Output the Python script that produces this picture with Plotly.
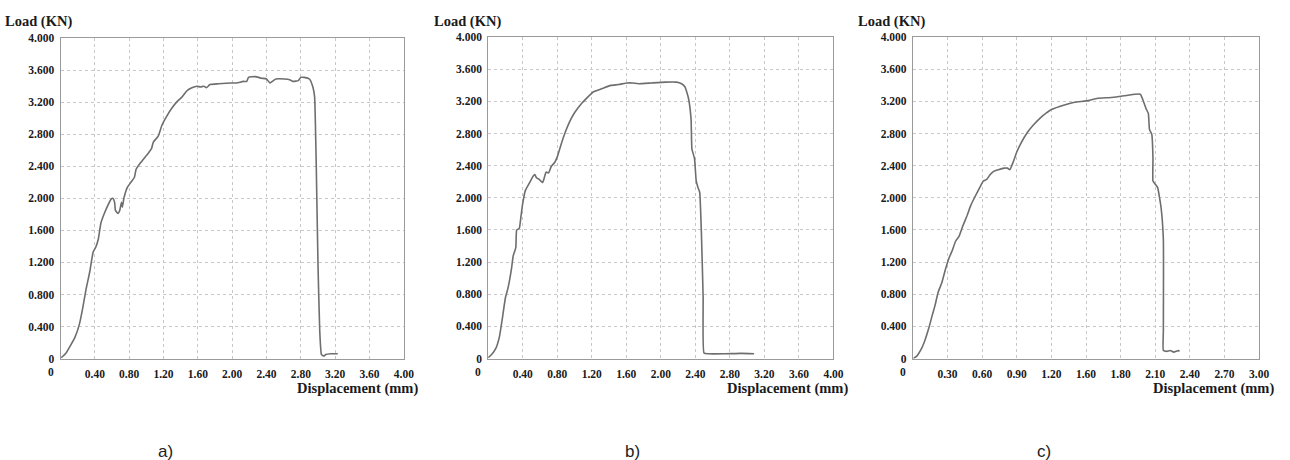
import plotly.graph_objects as go

# Load–displacement records for the three specimens
disp_a = [0.008, 0.065, 0.12, 0.17, 0.22, 0.26, 0.30, 0.34, 0.38, 0.41, 0.44, 0.47, 0.51, 0.55,
          0.59, 0.61, 0.63, 0.64, 0.67, 0.69, 0.71, 0.72, 0.74, 0.78, 0.82, 0.86, 0.88, 0.93,
          0.99, 1.02, 1.06, 1.08, 1.14, 1.18, 1.24, 1.30, 1.36, 1.42, 1.47, 1.53, 1.59, 1.63,
          1.67, 1.70, 1.74, 1.84, 1.99, 2.05, 2.13, 2.17, 2.19, 2.27, 2.34, 2.40, 2.44, 2.48,
          2.51, 2.61, 2.67, 2.71, 2.77, 2.80, 2.84, 2.90, 2.94, 2.96, 2.98, 3.00, 3.02, 3.04,
          3.07, 3.09, 3.15, 3.23]
load_a = [0.01, 0.07, 0.17, 0.27, 0.43, 0.64, 0.88, 1.08, 1.33, 1.39, 1.49, 1.69, 1.81, 1.91,
          1.99, 2.00, 1.95, 1.85, 1.81, 1.85, 1.95, 1.89, 2.01, 2.14, 2.20, 2.26, 2.36, 2.44,
          2.52, 2.56, 2.62, 2.70, 2.78, 2.91, 3.03, 3.13, 3.21, 3.27, 3.34, 3.38, 3.40, 3.39,
          3.40, 3.38, 3.42, 3.43, 3.44, 3.44, 3.46, 3.46, 3.51, 3.52, 3.50, 3.49, 3.44, 3.47,
          3.49, 3.49, 3.48, 3.46, 3.47, 3.51, 3.51, 3.49, 3.39, 3.27, 2.38, 1.16, 0.35, 0.05,
          0.03, 0.05, 0.06, 0.06]

disp_b = [0.0, 0.04, 0.09, 0.13, 0.16, 0.20, 0.23, 0.27, 0.29, 0.32, 0.33, 0.36, 0.38, 0.40,
          0.43, 0.48, 0.52, 0.54, 0.56, 0.59, 0.63, 0.65, 0.67, 0.70, 0.73, 0.77, 0.80, 0.84,
          0.88, 0.94, 1.00, 1.07, 1.15, 1.22, 1.32, 1.42, 1.51, 1.61, 1.67, 1.74, 1.89, 2.05,
          2.18, 2.24, 2.28, 2.32, 2.35, 2.36, 2.39, 2.41, 2.43, 2.45, 2.47, 2.49, 2.50, 2.55,
          2.74, 2.93, 3.08]
load_b = [0.01, 0.05, 0.13, 0.27, 0.47, 0.76, 0.88, 1.12, 1.28, 1.38, 1.60, 1.62, 1.77, 1.93,
          2.09, 2.19, 2.27, 2.29, 2.25, 2.23, 2.19, 2.25, 2.32, 2.31, 2.39, 2.44, 2.51, 2.65,
          2.78, 2.94, 3.06, 3.16, 3.25, 3.32, 3.36, 3.40, 3.41, 3.43, 3.43, 3.42, 3.43, 3.44,
          3.44, 3.42, 3.38, 3.24, 2.98, 2.61, 2.49, 2.21, 2.13, 2.07, 1.56, 0.76, 0.07, 0.06,
          0.06, 0.065, 0.06]

disp_c = [0.005, 0.034, 0.07, 0.10, 0.14, 0.17, 0.19, 0.22, 0.25, 0.28, 0.31, 0.34, 0.37, 0.40,
          0.43, 0.47, 0.50, 0.54, 0.58, 0.61, 0.64, 0.67, 0.70, 0.74, 0.79, 0.82, 0.84, 0.87,
          0.90, 0.94, 0.99, 1.04, 1.10, 1.16, 1.20, 1.32, 1.40, 1.52, 1.60, 1.72, 1.83, 1.97,
          1.99, 2.02, 2.04, 2.05, 2.07, 2.08, 2.08, 2.10, 2.12, 2.15, 2.17, 2.17, 2.17, 2.20,
          2.23, 2.26, 2.30, 2.31]
load_c = [0.0, 0.03, 0.11, 0.21, 0.39, 0.55, 0.65, 0.83, 0.94, 1.10, 1.24, 1.34, 1.46, 1.52,
          1.64, 1.78, 1.90, 2.02, 2.13, 2.21, 2.23, 2.29, 2.33, 2.35, 2.37, 2.37, 2.35, 2.45,
          2.57, 2.69, 2.81, 2.90, 2.99, 3.06, 3.10, 3.16, 3.19, 3.21, 3.24, 3.25, 3.27, 3.29,
          3.23, 3.11, 3.05, 2.85, 2.79, 2.49, 2.21, 2.17, 2.13, 1.88, 1.48, 0.35, 0.10, 0.09,
          0.10, 0.08, 0.10, 0.09]

# Axis ticks
y_ticks = [0, 0.4, 0.8, 1.2, 1.6, 2.0, 2.4, 2.8, 3.2, 3.6, 4.0]
y_labels = ["0", "0.400", "0.800", "1.200", "1.600", "2.000", "2.400", "2.800", "3.200", "3.600", "4.000"]
x_ticks_ab = [0.4, 0.8, 1.2, 1.6, 2.0, 2.4, 2.8, 3.2, 3.6, 4.0]
x_labels_ab = ["0.40", "0.80", "1.20", "1.60", "2.00", "2.40", "2.80", "3.20", "3.60", "4.00"]
x_ticks_c = [0.3, 0.6, 0.9, 1.2, 1.5, 1.8, 2.1, 2.4, 2.7, 3.0]
x_labels_c = ["0.30", "0.60", "0.90", "1.20", "1.60", "1.80", "2.10", "2.40", "2.70", "3.00"]
panel_tags = ["a)", "b)", "c)"]

W, H = 1290, 460
LINE = "#6e6e6e"
GRID = "#c8c8c8"
FRAME = "#9a9a9a"
SERIF = "Liberation Serif, Times New Roman, serif"
TICKFONT = dict(family=SERIF, size=11.5, color="#1a1a1a", weight="bold")

# plot-area rectangles in pixels: (left, right, top, bottom)
boxes = [(61, 407, 33, 362), (492, 840, 32, 362), (920, 1269, 32, 362)]
series = [(disp_a, load_a, 4.0, x_ticks_ab, x_labels_ab),
          (disp_b, load_b, 4.0, x_ticks_ab, x_labels_ab),
          (disp_c, load_c, 3.0, x_ticks_c, x_labels_c)]
title_left = [3, 435, 863]
xtitle_right = [423, 857, 1286]
tag_center = [167, 637, 1052]

fig = go.Figure()
annotations = []
layout = {}
for i, ((l, r, t, b), (xs, ys, xmax, xt, xl)) in enumerate(zip(boxes, series)):
    n = "" if i == 0 else str(i + 1)
    xa, ya = "x" + n, "y" + n
    fig.add_trace(go.Scatter(x=xs, y=ys, mode="lines", xaxis=xa, yaxis=ya,
                             line=dict(color=LINE, width=1.6, shape="spline", smoothing=0.4),
                             showlegend=False, hoverinfo="skip"))
    layout["xaxis" + n] = dict(
        domain=[l / W, r / W], range=[0, xmax], anchor=ya,
        tickvals=xt, ticktext=xl, tickfont=TICKFONT, ticks="", ticklabelstandoff=5,
        showgrid=True, gridcolor=GRID, griddash="dot", gridwidth=1,
        showline=True, linecolor=FRAME, linewidth=1, mirror=True, zeroline=False,
    )
    layout["yaxis" + n] = dict(
        domain=[(H - b) / H, (H - t) / H], range=[0, 4.0], anchor=xa,
        tickvals=y_ticks, ticktext=y_labels, tickfont=TICKFONT, ticks="", ticklabelstandoff=3,
        showgrid=True, gridcolor=GRID, griddash="dot", gridwidth=1,
        showline=True, linecolor=FRAME, linewidth=1, mirror=True, zeroline=False,
    )
    # origin label of the displacement axis sits at the corner
    annotations.append(dict(x=0, y=0, xref=xa, yref=ya, text="0", showarrow=False,
                            xanchor="right", yanchor="top", xshift=-5, yshift=-5,
                            font=TICKFONT))
    annotations.append(dict(x=title_left[i] / W, y=1 - 16 / H, xref="paper", yref="paper",
                            text="Load (KN)", showarrow=False, xanchor="left", yanchor="middle",
                            font=dict(family=SERIF, size=14.5, color="#1a1a1a", weight="bold")))
    annotations.append(dict(x=xtitle_right[i] / W, y=1 - 393 / H, xref="paper", yref="paper",
                            text="Displacement (mm)", showarrow=False, xanchor="right",
                            yanchor="middle",
                            font=dict(family=SERIF, size=14.5, color="#1a1a1a", weight="bold")))
    annotations.append(dict(x=tag_center[i] / W, y=1 - 457 / H, xref="paper", yref="paper",
                            text=panel_tags[i], showarrow=False, xanchor="center",
                            yanchor="middle",
                            font=dict(family="Liberation Sans, Arial, sans-serif", size=17,
                                      color="#222222")))

fig.update_layout(
    width=W, height=H, margin=dict(l=0, r=0, t=0, b=0),
    paper_bgcolor="white", plot_bgcolor="white",
    annotations=annotations, **layout,
)
fig.write_html("out.html", config={"displayModeBar": False})
